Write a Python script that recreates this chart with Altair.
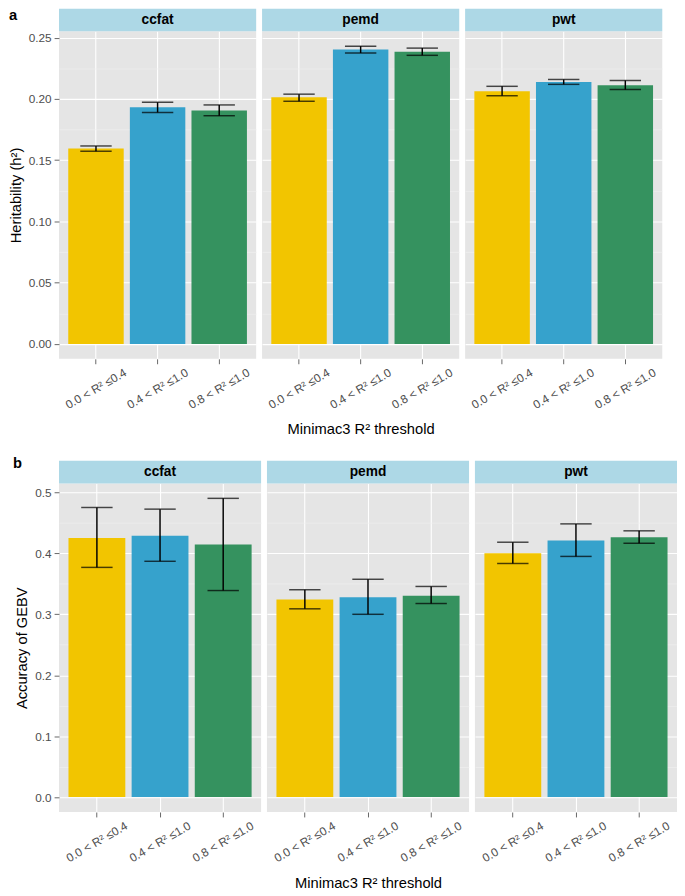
import altair as alt
import pandas as pd

# ---------------- data ----------------
traits = ["ccfat", "pemd", "pwt"]
cats = ["0.0 < R² ≤0.4", "0.4 < R² ≤1.0", "0.8 < R² ≤1.0"]

h2_mean = [0.1595, 0.1933, 0.1906, 0.2013, 0.2404, 0.2386, 0.2063, 0.2138, 0.2111]
h2_lo = [0.1573, 0.1890, 0.1863, 0.1981, 0.2375, 0.2356, 0.2026, 0.2119, 0.2077]
h2_hi = [0.1616, 0.1973, 0.1951, 0.2039, 0.2431, 0.2415, 0.2103, 0.2159, 0.2151]

acc_mean = [0.4253, 0.4290, 0.4145, 0.3242, 0.3280, 0.3306, 0.4000, 0.4210, 0.4263]
acc_lo = [0.3770, 0.3870, 0.3390, 0.3090, 0.3000, 0.3177, 0.3834, 0.3950, 0.4166]
acc_hi = [0.4753, 0.4726, 0.4903, 0.3403, 0.3575, 0.3457, 0.4183, 0.4484, 0.4370]

h2_ticks = [0.0, 0.05, 0.10, 0.15, 0.20, 0.25]
h2_minor = [0.025, 0.075, 0.125, 0.175, 0.225]
acc_ticks = [0.0, 0.1, 0.2, 0.3, 0.4, 0.5]
acc_minor = [0.05, 0.15, 0.25, 0.35, 0.45]

colors = ["#F2C500", "#36A2CC", "#35925F"]
FONT = "Liberation Sans"

trait_col = [t for t in traits for _ in cats]
cat_col = [c for _ in traits for c in cats]

df_h2 = pd.DataFrame({"trait": trait_col, "cat": cat_col, "mean": h2_mean, "lo": h2_lo, "hi": h2_hi})
df_acc = pd.DataFrame({"trait": trait_col, "cat": cat_col, "mean": acc_mean, "lo": acc_lo, "hi": acc_hi})

letter_x = {"a": -51, "b": -47}


def make_panel(df, trait, ylab, domain, major, minor, fmt, W, H, idx, letter, letter_y, cap):
    d = df[df.trait == trait]
    first = idx == 0
    middle = idx == 1
    xscale = alt.Scale(domain=cats, paddingInner=0.1, paddingOuter=0.15)
    yscale = alt.Scale(domain=domain, nice=False, zero=False)
    xaxis = alt.Axis(
        title="Minimac3 R² threshold" if middle else None,
        labelAngle=330, labelAlign="center", labelBaseline="middle",
        labelPadding=25, grid=True, gridColor="white", gridWidth=1.1,
        domain=False, ticks=True, tickSize=5, titlePadding=12,
    )
    if first:
        yaxis = alt.Axis(title=ylab, values=major, format=fmt, grid=True,
                         gridColor="white", gridWidth=1.1, domain=False,
                         tickSize=5, labelPadding=3, titlePadding=5)
    else:
        yaxis = alt.Axis(title=None, values=major, grid=True, gridColor="white",
                         gridWidth=1.1, domain=False, ticks=False, labels=False)
    minor_axis = alt.Axis(title=None, values=minor, grid=True, gridColor="#F2F2F2",
                          gridWidth=0.6, domain=False, ticks=False, labels=False,
                          orient="right")

    base = alt.Chart(d).encode(x=alt.X("cat:N", sort=cats, scale=xscale, axis=xaxis))
    bars = base.mark_bar().encode(
        y=alt.Y("mean:Q", scale=yscale, axis=yaxis),
        color=alt.Color("cat:N", scale=alt.Scale(domain=cats, range=colors), legend=None),
    )
    rule = base.mark_rule(color="black", strokeWidth=1.5).encode(
        y=alt.Y("lo:Q", scale=yscale, axis=minor_axis), y2="hi:Q")
    tlo = base.mark_tick(color="black", size=cap, thickness=1.5).encode(
        y=alt.Y("lo:Q", scale=yscale, axis=None))
    thi = base.mark_tick(color="black", size=cap, thickness=1.5).encode(
        y=alt.Y("hi:Q", scale=yscale, axis=None))

    sdf = pd.DataFrame({"label": [trait]})
    strip = alt.Chart(sdf).mark_rect(fill="#ADD8E6").encode(
        x=alt.value(0), x2=alt.value(W), y=alt.value(-23), y2=alt.value(0))
    stext = alt.Chart(sdf).mark_text(font=FONT, fontSize=14, fontWeight="bold",
                                     color="black", baseline="middle").encode(
        text="label:N", x=alt.value(W / 2), y=alt.value(-11.5))
    layers = [bars, rule, tlo, thi, strip, stext]
    if first:
        ldf = pd.DataFrame({"l": [letter]})
        ltext = alt.Chart(ldf).mark_text(font=FONT, fontSize=15, fontWeight="bold",
                                         color="black", align="left", baseline="middle").encode(
            text="l:N", x=alt.value(letter_x[letter]), y=alt.value(letter_y))
        layers.append(ltext)
    return alt.layer(*layers).resolve_axis(y="independent").properties(width=W, height=H)


row_a = alt.hconcat(*[
    make_panel(df_h2, t, "Heritability (h²)", [-0.0122, 0.2553], h2_ticks, h2_minor, ".2f",
               201, 334, i, "a", -16, 32)
    for i, t in enumerate(traits)
], spacing=6)

row_b = alt.hconcat(*[
    make_panel(df_acc, t, "Accuracy of GEBV", [-0.0245, 0.5148], acc_ticks, acc_minor, ".1f",
               206, 335, i, "b", -21, 32)
    for i, t in enumerate(traits)
], spacing=6)

chart = alt.concat(row_a, row_b, columns=1, spacing=19, align="none").properties(
    padding={"top": -8, "left": 0, "right": 0, "bottom": 0}
).configure_view(
    fill="#E5E5E5", strokeWidth=0
).configure_axis(
    labelFont=FONT, labelFontSize=12, labelColor="#4D4D4D",
    titleFont=FONT, titleFontSize=15, titleColor="black", titleFontWeight="normal",
    tickColor="#666666",
)

chart.save("out.html", embed_options={"renderer": "svg", "actions": False})
